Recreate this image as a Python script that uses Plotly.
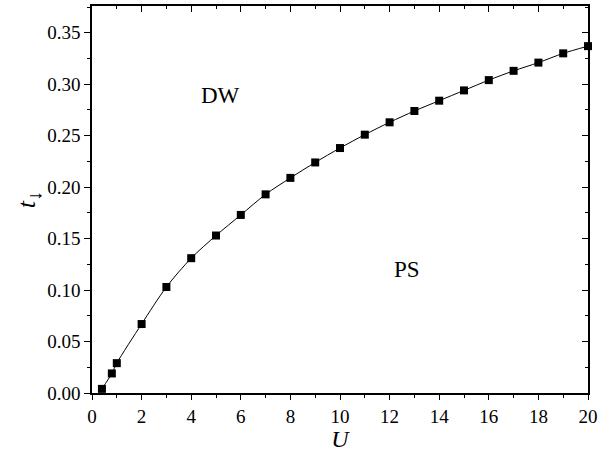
import plotly.graph_objects as go

U = [0.4, 0.8, 1, 2, 3, 4, 5, 6, 7, 8, 9, 10, 11, 12, 13, 14, 15, 16, 17, 18, 19, 20]
t_down = [0.004, 0.019, 0.029, 0.067, 0.103, 0.131, 0.153, 0.173, 0.193, 0.209, 0.224,
          0.238, 0.251, 0.263, 0.274, 0.284, 0.294, 0.304, 0.313, 0.321, 0.330, 0.337]
x_ticks = [0, 2, 4, 6, 8, 10, 12, 14, 16, 18, 20]
y_ticks = [0.00, 0.05, 0.10, 0.15, 0.20, 0.25, 0.30, 0.35]
y_tick_text = ["0.00", "0.05", "0.10", "0.15", "0.20", "0.25", "0.30", "0.35"]

FONT = "Liberation Serif, Times New Roman, serif"
XR = [0, 20]
YR = [0, 0.376]

fig = go.Figure()
fig.add_trace(go.Scatter(
    x=U, y=t_down, mode="lines+markers",
    line=dict(color="black", width=1, shape="spline", smoothing=0.8),
    marker=dict(symbol="square", size=8, color="black"),
    showlegend=False, cliponaxis=False,
))
# invisible trace for the mirrored top/right axes
fig.add_trace(go.Scatter(x=XR, y=YR, xaxis="x2", yaxis="y2", mode="markers",
                         marker=dict(opacity=0), showlegend=False, hoverinfo="skip"))

fig.update_layout(
    width=606, height=452,
    margin=dict(l=92, r=18, t=6, b=59),
    paper_bgcolor="white", plot_bgcolor="white",
    font=dict(family=FONT, size=19, color="black"),
    xaxis=dict(range=XR, tickvals=x_ticks, ticks="outside", ticklen=5, tickwidth=1,
               tickcolor="black", showline=True, linecolor="black", linewidth=1.5,
               showgrid=False, zeroline=False, automargin=False,
               minor=dict(dtick=1, tick0=0, ticks="outside", ticklen=3, tickcolor="black"),
               title=dict(text="<i>U</i>", font=dict(size=24), standoff=2)),
    yaxis=dict(range=YR, tickvals=y_ticks, ticktext=y_tick_text, ticks="outside", ticklen=6,
               tickwidth=1, tickcolor="black", showline=True, linecolor="black", linewidth=1.5,
               showgrid=False, zeroline=False, automargin=False,
               minor=dict(dtick=0.025, tick0=0, ticks="outside", ticklen=3, tickcolor="black"),
               title=dict(text="<i>t</i><sub><span style='font-size:20px'>↓</span></sub>",
                          font=dict(size=26), standoff=4)),
    xaxis2=dict(range=XR, overlaying="x", side="top", tickvals=x_ticks, ticks="inside",
                ticklen=6, tickwidth=1, tickcolor="black", showticklabels=False, showline=True,
                linecolor="black", linewidth=1.5, showgrid=False, zeroline=False,
                minor=dict(dtick=1, tick0=0, ticks="inside", ticklen=3, tickwidth=1,
                           tickcolor="black")),
    yaxis2=dict(range=YR, overlaying="y", side="right", tickvals=y_ticks, ticks="inside",
                ticklen=6, tickwidth=1, tickcolor="black", showticklabels=False, showline=True,
                linecolor="black", linewidth=1.5, showgrid=False, zeroline=False,
                minor=dict(dtick=0.025, tick0=0, ticks="inside", ticklen=3, tickwidth=1,
                           tickcolor="black")),
    annotations=[
        dict(x=5.2, y=0.289, text="DW", showarrow=False, font=dict(size=23)),
        dict(x=12.7, y=0.120, text="PS", showarrow=False, font=dict(size=23)),
    ],
)

fig.write_html("out.html", config={"displayModeBar": False},
               post_script="document.body.style.margin='0';")
